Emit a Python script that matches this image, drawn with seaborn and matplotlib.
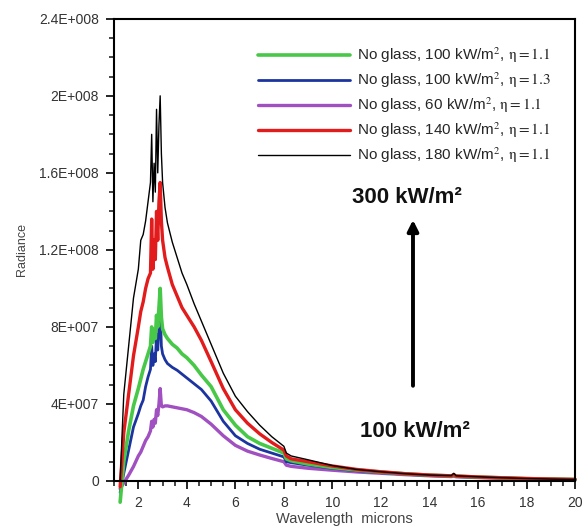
import matplotlib
matplotlib.use("Agg")
import matplotlib.pyplot as plt
import numpy as np
import seaborn as sns
from matplotlib.ticker import MultipleLocator, FuncFormatter

# wavelength grid (microns) and radiance of each case, in units of 1E7
wavelength = [1.25, 1.4, 1.6, 1.8, 2.0, 2.1, 2.2, 2.3, 2.4, 2.5,
              2.55, 2.6, 2.65, 2.7, 2.75, 2.8, 2.85, 2.9, 2.95, 3.0,
              3.1, 3.2, 3.4, 3.6, 3.8, 4.0, 4.3, 4.6, 5.0, 5.5,
              6.0, 6.5, 7.0, 7.5, 8.0, 8.1, 8.3, 9.0, 10, 11,
              12, 13, 14, 14.9, 15.0, 15.1, 16, 17, 18, 19, 20]

rad_100_11 = [-1.1, 1.0, 2.6, 3.9, 4.8, 5.3, 5.8, 6.2, 6.6, 7.0,
              8.0, 7.2, 7.8, 7.4, 8.6, 8.0, 9.0, 10.0, 8.5, 7.9,
              7.6, 7.4, 7.1, 6.9, 6.6, 6.4, 6.0, 5.5, 4.9, 3.7,
              2.9, 2.3, 1.95, 1.7, 1.45, 1.15, 1.05, 0.88, 0.7, 0.57,
              0.46, 0.37, 0.3, 0.26, 0.3, 0.25, 0.2, 0.16, 0.12, 0.1, 0.08]

rad_100_13 = [-0.6, 0.4, 1.6, 2.8, 3.5, 3.9, 4.2, 4.9, 5.4, 5.8,
              7.0, 6.0, 6.6, 6.2, 7.6, 6.8, 8.0, 8.9, 7.0, 6.6,
              6.3, 6.1, 5.9, 5.75, 5.55, 5.35, 5.05, 4.75, 4.15, 3.1,
              2.35, 1.95, 1.65, 1.45, 1.25, 1.0, 0.95, 0.82, 0.66, 0.53,
              0.43, 0.35, 0.28, 0.24, 0.29, 0.23, 0.19, 0.15, 0.12, 0.09, 0.07]

rad_60_11 = [-0.4, -0.1, 0.3, 0.75, 1.3, 1.5, 1.8, 2.1, 2.3, 2.6,
             3.1, 2.8, 3.2, 3.0, 3.7, 3.4, 4.0, 4.8, 3.9, 3.85,
             3.9, 3.9, 3.85, 3.8, 3.75, 3.7, 3.55, 3.35, 2.95, 2.35,
             1.85, 1.55, 1.35, 1.17, 1.0, 0.82, 0.76, 0.66, 0.56, 0.47,
             0.4, 0.33, 0.27, 0.23, 0.25, 0.22, 0.18, 0.14, 0.11, 0.09, 0.07]

rad_140_11 = [-0.3, 2.5, 4.5, 6.5, 8.0, 8.8, 9.3, 10.0, 10.5, 10.8,
              13.6, 11.0, 12.5, 11.5, 14.0, 12.5, 14.5, 15.5, 13.5, 12.5,
              11.6, 11.1, 10.2, 9.6, 9.0, 8.6, 8.0, 7.3, 6.2, 4.8,
              3.7, 3.0, 2.45, 2.0, 1.6, 1.3, 1.15, 1.0, 0.78, 0.6,
              0.48, 0.38, 0.31, 0.27, 0.33, 0.26, 0.21, 0.17, 0.13, 0.1, 0.08]

rad_180_11 = [0.0, 4.5, 7.0, 9.5, 11.0, 12.5, 12.8, 13.5, 14.5, 15.5,
              18.0, 14.5, 16.5, 15.0, 19.3, 16.0, 18.5, 20.0, 17.0, 15.5,
              14.2, 13.4, 12.4, 11.6, 10.8, 10.2, 9.2, 8.3, 7.1, 5.6,
              4.4, 3.6, 2.9, 2.3, 1.8, 1.45, 1.3, 1.1, 0.8, 0.6,
              0.48, 0.38, 0.31, 0.28, 0.4, 0.27, 0.22, 0.17, 0.13, 0.1, 0.08]

labels = ["No glass, 100 kW/m$^2$, $\\mathrm{\\eta=1.1}$",
          "No glass, 100 kW/m$^2$, $\\mathrm{\\eta=1.3}$",
          "No glass, 60 kW/m$^2$, $\\mathrm{\\eta=1.1}$",
          "No glass, 140 kW/m$^2$, $\\mathrm{\\eta=1.1}$",
          "No glass, 180 kW/m$^2$, $\\mathrm{\\eta=1.1}$"]
series = [rad_100_11, rad_100_13, rad_60_11, rad_140_11, rad_180_11]
colors = ["#48c848", "#1c34a0", "#a050c0", "#e21c1c", "#000000"]
widths = [2.6, 2.0, 2.4, 2.4, 1.0]

sns.set_style("ticks")
plt.rcParams["font.family"] = ["Liberation Sans", "DejaVu Sans"]
plt.rcParams["mathtext.fontset"] = "stix"

fig = plt.figure(figsize=(5.88, 5.27), dpi=100)
ax = fig.add_axes([0.194, 0.0873, 0.784, 0.877])

# draw purple first, black last, legend keeps the reference order
handles = [None] * len(series)
for i in [2, 1, 0, 3, 4]:
    y = np.array(series[i]) * 1e7
    sns.lineplot(x=wavelength, y=y, ax=ax, color=colors[i], lw=widths[i],
                 label=labels[i], clip_on=False)
    handles[i] = ax.get_lines()[-1]

ax.set_xlim(1, 20)
ax.set_ylim(0, 2.4e8)
ax.xaxis.set_major_locator(MultipleLocator(2))
ax.xaxis.set_minor_locator(MultipleLocator(0.5))
ax.yaxis.set_major_locator(MultipleLocator(4e7))
ax.yaxis.set_minor_locator(MultipleLocator(1e7))


def sci_fmt(v, pos):
    if v == 0:
        return "0"
    e = int(np.floor(np.log10(abs(v)) + 1e-9))
    m = v / 10 ** e
    return f"{m:g}E+{e:03d}"


ax.yaxis.set_major_formatter(FuncFormatter(sci_fmt))
ax.tick_params(which="major", direction="out", length=6, width=1.2,
               labelsize=10, colors="black", labelcolor="#333333")
ax.tick_params(which="minor", direction="out", length=3.5, width=1.2)
ax.tick_params(axis="x", pad=5)
ax.tick_params(axis="y", pad=5)
for sp in ax.spines.values():
    sp.set_linewidth(1.5)
    sp.set_color("black")

ax.set_ylabel("Radiance", fontsize=9, color="#444444", labelpad=8)
ax.set_xlabel("Wavelength  microns", fontsize=10.5, color="#444444",
              labelpad=1)

ax.legend(handles=handles, labels=labels, loc="upper left",
          bbox_to_anchor=(0.312, 0.942), frameon=False, fontsize=11,
          handlelength=6.0, handletextpad=0.5, labelspacing=0.35,
          borderpad=0, borderaxespad=0)

ax.text(13.07, 1.47e8, "300 kW/m²", ha="center", va="center",
        fontsize=16, fontweight="bold", color="#111111")
ax.text(13.4, 0.255e8, "100 kW/m²", ha="center", va="center",
        fontsize=16, fontweight="bold", color="#111111")
ax.annotate("", xy=(13.32, 1.37e8), xytext=(13.32, 0.48e8),
            arrowprops=dict(arrowstyle="-|>", color="black", lw=2.8,
                            mutation_scale=16))

fig.savefig("out.png", dpi=100)
